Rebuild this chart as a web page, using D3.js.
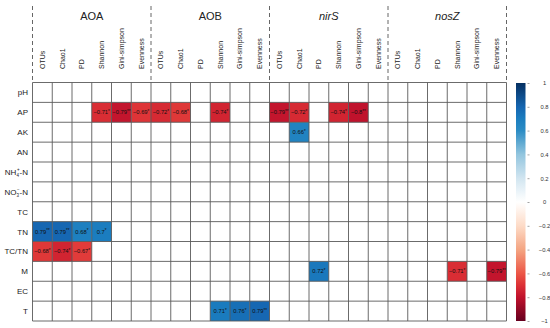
<!DOCTYPE html>
<html>
<head>
<meta charset="utf-8">
<script src="https://cdn.jsdelivr.net/npm/d3@7"></script>
<style>
  body { margin: 0; background: #fff; }
  svg { font-family: "Liberation Sans", Arial, sans-serif; }
</style>
</head>
<body>
<div id="chart"></div>
<script>
// Groups and diversity indices (columns)
const groups = ["AOA", "AOB", "nirS", "nosZ"];
const italicGroups = ["nirS", "nosZ"];
const indices = ["OTUs", "Chao1", "PD", "Shannon", "Gini-simpson", "Evenness"];

// Soil properties (rows)
const rows = ["pH", "AP", "AK", "AN", "NH4-N", "NO3-N", "TC", "TN", "TC/TN", "M", "EC", "T"];

// Significant correlations: [row, column index (0-23), r, stars]
const sigCells = [
  ["AP", 3, -0.71, "*"], ["AP", 4, -0.79, "**"], ["AP", 5, -0.69, "*"],
  ["AP", 6, -0.72, "*"], ["AP", 7, -0.68, "*"], ["AP", 9, -0.74, "*"],
  ["AP", 12, -0.79, "**"], ["AP", 13, -0.72, "*"], ["AP", 15, -0.74, "*"], ["AP", 16, -0.8, "**"],
  ["AK", 13, 0.66, "*"],
  ["TN", 0, 0.79, "**"], ["TN", 1, 0.79, "**"], ["TN", 2, 0.68, "*"], ["TN", 3, 0.7, "*"],
  ["TC/TN", 0, -0.68, "*"], ["TC/TN", 1, -0.74, "*"], ["TC/TN", 2, -0.67, "*"],
  ["M", 14, 0.72, "*"], ["M", 21, -0.71, "*"], ["M", 23, -0.79, "**"],
  ["T", 9, 0.71, "*"], ["T", 10, 0.76, "*"], ["T", 11, 0.79, "**"]
];

// Legend ticks
const legendTicks = [1, 0.8, 0.6, 0.4, 0.2, 0, -0.2, -0.4, -0.6, -0.8, -1];

// Red-white-blue palette
const colorValues = [-1, -0.8, -0.7, -0.6, -0.4, -0.2, 0, 0.2, 0.4, 0.6, 0.7, 0.8, 1];
const colorStops = ["#67001F", "#C0122C", "#DC3035", "#EC5646", "#F4A582", "#FDDBC7", "#FFFFFF",
                    "#D1E5F0", "#92C5DE", "#2B8CC4", "#1B7DBF", "#1565B0", "#053061"];

// Dimensions
const dimensions = {
  width: 550,
  height: 328,
  margin: {top: 82.5, left: 32.5}
};
dimensions.gridWidth = 474;
dimensions.gridHeight = 238.5;

const columns = [];
groups.forEach(g => indices.forEach(ix => columns.push(g + "|" + ix)));

// Scales
const xScale = d3.scaleBand()
  .domain(d3.range(columns.length))
  .range([dimensions.margin.left, dimensions.margin.left + dimensions.gridWidth]);

const yScale = d3.scaleBand()
  .domain(rows)
  .range([dimensions.margin.top, dimensions.margin.top + dimensions.gridHeight]);

const colorScale = d3.scaleLinear()
  .domain(colorValues)
  .range(colorStops)
  .interpolate(d3.interpolateRgb);

const svg = d3.select("#chart")
  .append("svg")
    .attr("width", dimensions.width)
    .attr("height", dimensions.height);

// Coloured cells
const cellG = svg.append("g");
cellG.selectAll("rect")
  .data(sigCells)
  .join("rect")
    .attr("x", d => xScale(d[1]))
    .attr("y", d => yScale(d[0]))
    .attr("width", xScale.bandwidth())
    .attr("height", yScale.bandwidth())
    .attr("fill", d => colorScale(d[2]));

// Grid lines
const gridG = svg.append("g")
  .attr("stroke", "#5a5a5a")
  .attr("stroke-width", 0.9);

const x0 = dimensions.margin.left, x1 = x0 + dimensions.gridWidth;
const y0 = dimensions.margin.top, y1 = y0 + dimensions.gridHeight;

gridG.selectAll("line.v")
  .data(d3.range(columns.length + 1))
  .join("line")
    .attr("class", "v")
    .attr("x1", i => x0 + i * xScale.bandwidth())
    .attr("x2", i => x0 + i * xScale.bandwidth())
    .attr("y1", y0)
    .attr("y2", y1);

gridG.selectAll("line.h")
  .data(d3.range(rows.length + 1))
  .join("line")
    .attr("class", "h")
    .attr("x1", x0)
    .attr("x2", x1)
    .attr("y1", i => y0 + i * yScale.bandwidth())
    .attr("y2", i => y0 + i * yScale.bandwidth());

// Dashed group separators
svg.append("g")
  .selectAll("line")
  .data(d3.range(groups.length + 1))
  .join("line")
    .attr("x1", i => x0 + i * 6 * xScale.bandwidth())
    .attr("x2", i => x0 + i * 6 * xScale.bandwidth())
    .attr("y1", 6)
    .attr("y2", y0)
    .attr("stroke", "#555")
    .attr("stroke-width", 0.9)
    .attr("stroke-dasharray", "4,3");

// Group titles
svg.append("g")
  .selectAll("text")
  .data(groups)
  .join("text")
    .attr("x", (d, i) => x0 + (i * 6 + 3) * xScale.bandwidth())
    .attr("y", 20)
    .attr("text-anchor", "middle")
    .attr("font-size", 11)
    .attr("font-style", d => italicGroups.includes(d) ? "italic" : "normal")
    .attr("fill", "#222")
    .text(d => d);

// Column labels
svg.append("g")
  .selectAll("text")
  .data(columns)
  .join("text")
    .attr("transform", (d, i) => `translate(${xScale(i) + xScale.bandwidth() / 2 + 2.5}, 69) rotate(-90)`)
    .attr("font-size", 7)
    .attr("fill", "#222")
    .text(d => d.split("|")[1]);

// Row labels
const rowLabels = svg.append("g")
  .selectAll("text")
  .data(rows)
  .join("text")
    .attr("x", 28)
    .attr("y", d => yScale(d) + yScale.bandwidth() / 2 + 3)
    .attr("text-anchor", "end")
    .attr("font-size", 8)
    .attr("fill", "#222");

rowLabels.each(function(d) {
  const t = d3.select(this);
  if (d === "NH4-N" || d === "NO3-N") {
    const base = d === "NH4-N" ? "NH" : "NO";
    const sub = d === "NH4-N" ? "4" : "3";
    const sup = d === "NH4-N" ? "+" : "\u2212";
    t.append("tspan").text(base);
    t.append("tspan").attr("font-size", 4.5).attr("dy", 2).text(sub);
    t.append("tspan").attr("font-size", 4.5).attr("dx", -2).attr("dy", -5.5).text(sup);
    t.append("tspan").attr("dy", 3.5).text("-N");
  } else {
    t.text(d);
  }
});

// Cell values
const labelG = svg.append("g");
labelG.selectAll("text")
  .data(sigCells)
  .join("text")
    .attr("x", d => xScale(d[1]) + xScale.bandwidth() / 2)
    .attr("y", d => yScale(d[0]) + yScale.bandwidth() / 2 + 2)
    .attr("text-anchor", "middle")
    .attr("font-size", 5.8)
    .attr("fill", "#111")
    .each(function(d) {
      const t = d3.select(this);
      t.append("tspan").text((d[2] < 0 ? "\u2212" : "") + Math.abs(d[2]));
      t.append("tspan").attr("font-size", 4.5).attr("dy", -1.2).text(d[3]);
    });

// Colour legend
const legend = {x: 516, width: 9.5, top: y0 + 0.5, bottom: y1};
const legendScale = d3.scaleLinear()
  .domain([1, -1])
  .range([legend.top, legend.bottom]);

const defs = svg.append("defs");
const grad = defs.append("linearGradient")
  .attr("id", "legendGrad")
  .attr("x1", 0).attr("x2", 0).attr("y1", 0).attr("y2", 1);
grad.selectAll("stop")
  .data(d3.range(0, 1.001, 0.025))
  .join("stop")
    .attr("offset", d => d)
    .attr("stop-color", d => colorScale(1 - 2 * d));

svg.append("rect")
  .attr("x", legend.x)
  .attr("y", legend.top)
  .attr("width", legend.width)
  .attr("height", legend.bottom - legend.top)
  .attr("fill", "url(#legendGrad)");

const legendAxis = svg.append("g")
  .attr("transform", `translate(${legend.x + legend.width}, 0)`)
  .call(d3.axisRight(legendScale)
    .tickValues(legendTicks)
    .tickSize(3)
    .tickPadding(16)
    .tickFormat(d => d < 0 ? "\u2212" + Math.abs(d) : d));

legendAxis.select(".domain").remove();
legendAxis.selectAll(".tick line")
  .attr("x1", 2)
  .attr("x2", 4)
  .attr("stroke", "#666")
  .attr("stroke-width", 0.6);
legendAxis.selectAll(".tick text")
  .attr("text-anchor", "middle")
  .attr("font-size", 5.8)
  .attr("font-family", "Liberation Sans, Arial, sans-serif")
  .attr("fill", "#333");
</script>
</body>
</html>
